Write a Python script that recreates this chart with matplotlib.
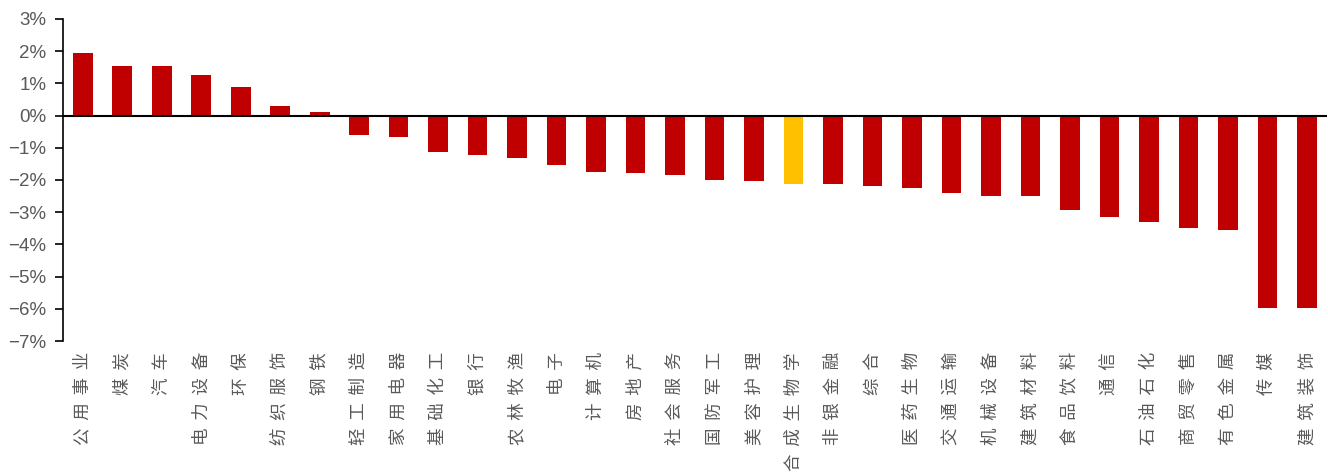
import matplotlib.pyplot as plt
from matplotlib.ticker import FuncFormatter
import numpy as np

# industry names and returns (%)
industries = ['公用事业', '煤炭', '汽车', '电力设备', '环保', '纺织服饰', '钢铁',
              '轻工制造', '家用电器', '基础化工', '银行', '农林牧渔', '电子', '计算机',
              '房地产', '社会服务', '国防军工', '美容护理', '合成生物学', '非银金融',
              '综合', '医药生物', '交通运输', '机械设备', '建筑材料', '食品饮料',
              '通信', '石油石化', '商贸零售', '有色金属', '传媒', '建筑装饰']
returns = [1.95, 1.54, 1.54, 1.26, 0.88, 0.29, 0.11,
           -0.61, -0.68, -1.12, -1.24, -1.32, -1.52, -1.74,
           -1.77, -1.86, -2.01, -2.02, -2.14, -2.14,
           -2.18, -2.26, -2.39, -2.51, -2.50, -2.94,
           -3.16, -3.31, -3.48, -3.54, -5.99, -5.98]
highlight = '合成生物学'

red = '#C00000'
gold = '#FFC000'
grey = '#595959'

fig = plt.figure(figsize=(13.28, 4.73), dpi=100)
ax = fig.add_axes([0.0474, 0.279, 0.9516, 0.681])

x = np.arange(len(industries))
colors = [gold if n == highlight else red for n in industries]
ax.bar(x, returns, width=0.5, color=colors, zorder=2)
ax.axhline(0, color='black', lw=1.5, zorder=3)

ax.set_xlim(-0.5, len(industries) - 0.5)
ax.set_ylim(-7, 3)
ax.set_yticks(range(-7, 4))
ax.yaxis.set_major_formatter(FuncFormatter(lambda v, p: f'{v:.0f}%'.replace('-', '\u2212')))
ax.tick_params(axis='y', direction='out', length=6, width=1.2, colors='black',
               labelcolor=grey, labelsize=13.5, pad=6)
for t in ax.get_yticklabels():
    t.set_family('Liberation Sans')

ax.set_xticks(x)
ax.set_xticklabels(['  '.join(n) for n in industries], rotation=90,
                   family=['Noto Sans CJK SC', 'DejaVu Sans'], fontsize=12.6,
                   color=grey, va='top', ha='center')
ax.tick_params(axis='x', length=0, pad=8)

for s in ['top', 'right', 'bottom']:
    ax.spines[s].set_visible(False)
ax.spines['left'].set_linewidth(1.2)

fig.savefig('out.png', dpi=100)
